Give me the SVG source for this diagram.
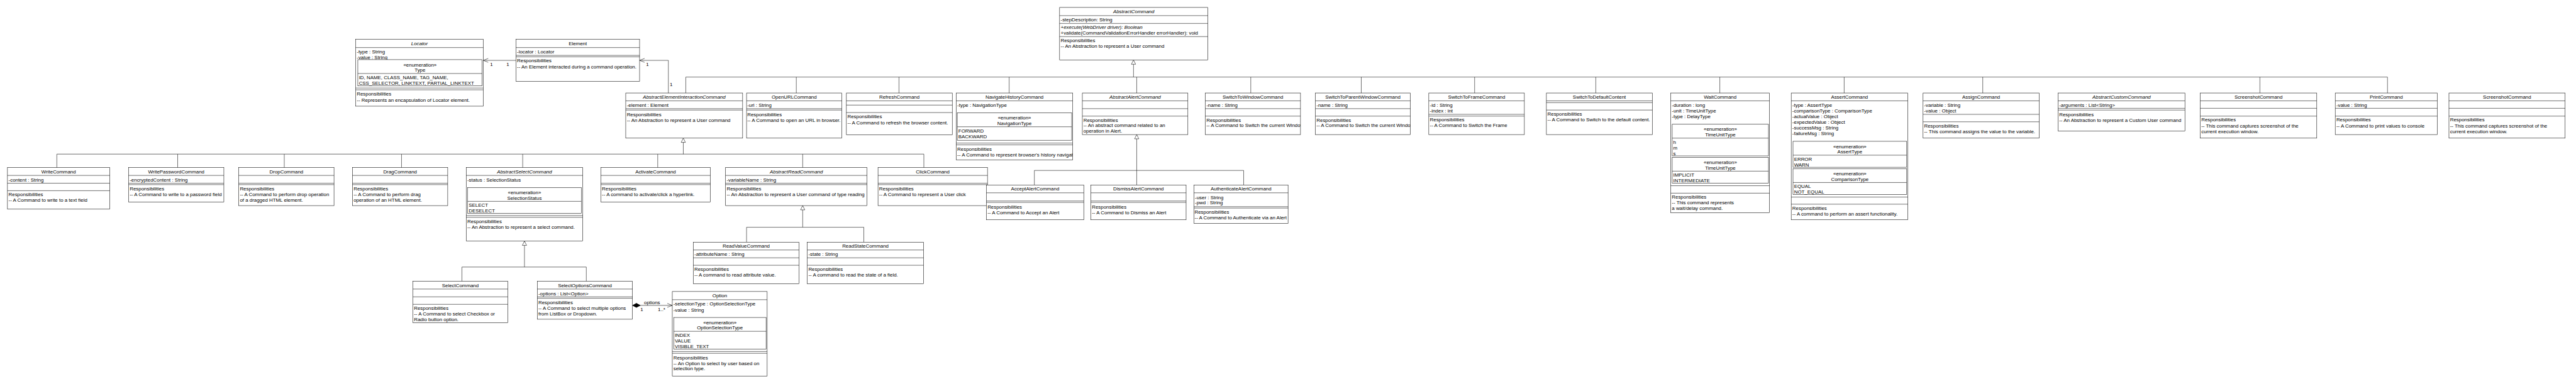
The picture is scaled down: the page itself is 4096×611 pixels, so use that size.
<svg xmlns="http://www.w3.org/2000/svg" width="4096" height="611" viewBox="0 0 4096 611">
<style>
text{font-family:"Liberation Sans",Arial,sans-serif;font-size:14px;fill:#000}
.c{text-anchor:middle}
.it{font-style:italic}
.n{fill:#fff;stroke:#000;stroke-width:1}
.d{fill:none;stroke:#000;stroke-width:1}
.k{fill:none;stroke:#000;stroke-width:1}
</style>
<defs>
<marker id="tri" markerUnits="userSpaceOnUse" markerWidth="14" markerHeight="14" refX="12" refY="6" orient="auto" overflow="visible"><path d="M0,0L12,6L0,12Z" fill="#fff" stroke="#000"/></marker>
<marker id="open" markerUnits="userSpaceOnUse" markerWidth="16" markerHeight="12" refX="14" refY="5.5" orient="auto" overflow="visible"><path d="M0,0L14,5.5L0,11" fill="none" stroke="#000"/></marker>
<marker id="dia" markerUnits="userSpaceOnUse" markerWidth="22" markerHeight="12" refX="0" refY="6" orient="auto" overflow="visible"><path d="M0,6L11,0L22,6L11,12Z" fill="#000" stroke="#000"/></marker>
<clipPath id="cNav"><rect x="2691" y="262" width="328" height="188"/></clipPath>
<clipPath id="cWin"><rect x="3392" y="262" width="268" height="117"/></clipPath>
<clipPath id="cPar"><rect x="3702" y="262" width="267" height="117"/></clipPath>
</defs>
<rect width="4096" height="611" fill="#fff"/>
<g transform="scale(0.565)">
<g id="connectors">
<path class="k" d="M1452,170H1360" marker-end="url(#open)"/>
<path class="k" d="M1881,262V170H1800" marker-end="url(#open)"/>
<text class="c" x="1383" y="185">1</text>
<text class="c" x="1429" y="185">1</text>
<text class="c" x="1822" y="185">1</text>
<text x="1885" y="242">1</text>
<path class="k" d="M1930,217H6719M1930,217V262M2241,217V262M2530,217V262M2840,217V262M3199,217V262M3520,217V262M3831,217V262M4150,217V262M4491,217V262M4840,217V262M5190,217V262M5580,217V262M6360,217V262M6719,217V262"/>
<path class="k" d="M3190,217V169" marker-end="url(#tri)"/>
<path class="k" d="M160,434H2600M160,434V472M500,434V472M800,434V472M1130,434V472M1471,434V472M1851,434V472M2259,434V472M2600,434V472"/>
<path class="k" d="M1923,434V389" marker-end="url(#tri)"/>
<path class="k" d="M2911,480H3500M2911,480V521M3199,480V521M3500,480V521"/>
<path class="k" d="M3199,480V379" marker-end="url(#tri)"/>
<path class="k" d="M2101,640H2431M2101,640V682M2431,640V682"/>
<path class="k" d="M2259,640V579" marker-end="url(#tri)"/>
<path class="k" d="M1300,752H1650M1300,752V792M1650,752V792"/>
<path class="k" d="M1476,752V679" marker-end="url(#tri)"/>
<path class="k" d="M1780,860H1892" marker-start="url(#dia)" marker-end="url(#open)"/>
<text class="c" x="1835" y="857">options</text>
<text class="c" x="1806" y="876">1</text>
<text class="c" x="1862" y="876">1..*</text>
</g>

<g id="locator">
<rect class="n" x="1001" y="111" width="359" height="188"/>
<path class="d" d="M1001,134H1360M1001,248H1360M1001,253H1360"/>
<text class="c it" x="1180.5" y="127">Locator</text>
<text x="1004" y="151">-type : String</text>
<text x="1004" y="166">-value : String</text>
<rect class="n" x="1007" y="168" width="350" height="74"/>
<path class="d" d="M1007,207H1357"/>
<text class="c" x="1182" y="187">«enumeration»</text>
<text class="c" x="1182" y="202">Type</text>
<text x="1010" y="223">ID, NAME, CLASS_NAME, TAG_NAME,</text>
<text x="1010" y="239">CSS_SELECTOR, LINKTEXT, PARTIAL_LINKTEXT</text>
<text x="1004" y="269">Responsibilities</text>
<text x="1004" y="286">-- Represents an encapsulation of Locator element.</text>
</g>

<g id="element">
<rect class="n" x="1452" y="111" width="348" height="118"/>
<path class="d" d="M1452,134H1800M1452,156H1800M1452,160H1800"/>
<text class="c" x="1626" y="127">Element</text>
<text x="1455" y="151">-locator : Locator</text>
<text x="1455" y="176">Responsibilities</text>
<text x="1455" y="193">-- An Element interacted during a command operation.</text>
</g>

<g id="abstractCommand">
<rect class="n" x="2982" y="21" width="417" height="148"/>
<path class="d" d="M2982,44H3399M2982,66H3399M2982,103H3399"/>
<text class="c it" x="3190.5" y="37">AbstractCommand</text>
<text x="2985" y="61">-stepDescription: String</text>
<text class="it" x="2985" y="82">+execute(WebDriver driver): Boolean</text>
<text x="2985" y="97">+validate(CommandValidationErrorHandler errorHandler): void</text>
<text x="2985" y="118">Responsibilities</text>
<text x="2985" y="134">-- An Abstraction to represent a User command</text>
</g>

<g id="abstractElementInteractionCommand">
<rect class="n" x="1761" y="262" width="329" height="127"/>
<path class="d" d="M1761,284H2090M1761,306H2090M1761,310H2090"/>
<text class="c it" x="1925.5" y="278">AbstractElementInteractionCommand</text>
<text x="1764" y="301">-element : Element</text>
<text x="1764" y="327">Responsibilities</text>
<text x="1764" y="343">-- An Abstraction to represent a User command</text>
</g>

<g id="openURLCommand">
<rect class="n" x="2101" y="262" width="268" height="127"/>
<path class="d" d="M2101,284H2369M2101,306H2369M2101,310H2369"/>
<text class="c" x="2235" y="278">OpenURLCommand</text>
<text x="2103" y="301">-url : String</text>
<text x="2103" y="327">Responsibilities</text>
<text x="2103" y="343">-- A Command to open an URL in browser.</text>
</g>

<g id="refreshCommand">
<rect class="n" x="2382" y="262" width="298" height="118"/>
<path class="d" d="M2382,284H2680M2382,296H2680M2382,317H2680"/>
<text class="c" x="2531" y="278">RefreshCommand</text>
<text x="2385" y="333">Responsibilities</text>
<text x="2385" y="350">-- A Command to refresh the browser content.</text>
</g>

<g id="navigateHistoryCommand">
<rect class="n" x="2691" y="262" width="328" height="188"/>
<path class="d" d="M2691,284H3019M2691,403H3019M2691,408H3019"/>
<text class="c" x="2855" y="278">NavigateHistoryCommand</text>
<text x="2694" y="301">-type : NavigationType</text>
<rect class="n" x="2694" y="318" width="322" height="77"/>
<path class="d" d="M2694,357H3016"/>
<text class="c" x="2855" y="337">«enumeration»</text>
<text class="c" x="2855" y="352">NavigationType</text>
<text x="2697" y="373">FORWARD</text>
<text x="2697" y="389">BACKWARD</text>
<text x="2694" y="425">Responsibilities</text>
<text x="2694" y="441" clip-path="url(#cNav)">-- A Command to represent browser's history navigation</text>
</g>

<g id="abstractAlertCommand">
<rect class="n" x="3046" y="262" width="297" height="117"/>
<path class="d" d="M3046,284H3343M3046,306H3343M3046,327H3343"/>
<text class="c it" x="3194.5" y="278">AbstractAlertCommand</text>
<text x="3049" y="343">Responsibilities</text>
<text x="3049" y="358">-- An abstract command related to an</text>
<text x="3049" y="374">operation in Alert.</text>
</g>

<g id="switchToWindowCommand">
<rect class="n" x="3392" y="262" width="268" height="117"/>
<path class="d" d="M3392,284H3660M3392,306H3660M3392,327H3660"/>
<text class="c" x="3526" y="278">SwitchToWindowCommand</text>
<text x="3395" y="301">-name : String</text>
<text x="3395" y="343">Responsibilities</text>
<text x="3395" y="358" clip-path="url(#cWin)">-- A Command to Switch the current Window</text>
</g>

<g id="switchToParentWindowCommand">
<rect class="n" x="3702" y="262" width="267" height="117"/>
<path class="d" d="M3702,284H3969M3702,306H3969M3702,327H3969"/>
<text class="c" x="3835.5" y="278">SwitchToParentWindowCommand</text>
<text x="3705" y="301">-name : String</text>
<text x="3705" y="343">Responsibilities</text>
<text x="3705" y="358" clip-path="url(#cPar)">-- A Command to Switch the current Window</text>
</g>

<g id="switchToFrameCommand">
<rect class="n" x="4021" y="262" width="269" height="117"/>
<path class="d" d="M4021,284H4290M4021,322H4290M4021,327H4290"/>
<text class="c" x="4155.5" y="278">SwitchToFrameCommand</text>
<text x="4024" y="301">-id : String</text>
<text x="4024" y="317">-index : int</text>
<text x="4024" y="342">Responsibilities</text>
<text x="4024" y="358">-- A Command to Switch the Frame</text>
</g>

<g id="switchToDefaultContent">
<rect class="n" x="4352" y="262" width="298" height="117"/>
<path class="d" d="M4352,284H4650M4352,289H4650M4352,310H4650"/>
<text class="c" x="4501" y="278">SwitchToDefaultContent</text>
<text x="4355" y="326">Responsibilities</text>
<text x="4355" y="342">-- A Command to Switch to the default content.</text>
</g>

<g id="waitCommand">
<rect class="n" x="4702" y="262" width="278" height="337"/>
<path class="d" d="M4702,284H4980M4702,523H4980M4702,544H4980"/>
<text class="c" x="4841" y="278">WaitCommand</text>
<text x="4705" y="301">-duration : long</text>
<text x="4705" y="316">-unit : TimeUnitType</text>
<text x="4705" y="332">-type : DelayType</text>
<rect class="n" x="4706" y="350" width="271" height="89"/>
<path class="d" d="M4706,389H4977"/>
<text class="c" x="4841.5" y="369">«enumeration»</text>
<text class="c" x="4841.5" y="384">TimeUnitType</text>
<text x="4709" y="406">h</text>
<text x="4709" y="422">m</text>
<text x="4709" y="437">s</text>
<rect class="n" x="4706" y="443" width="271" height="73"/>
<path class="d" d="M4706,482H4977"/>
<text class="c" x="4841.5" y="462">«enumeration»</text>
<text class="c" x="4841.5" y="477">TimeUnitType</text>
<text x="4709" y="498">IMPLICIT</text>
<text x="4709" y="514">INTERMEDIATE</text>
<text x="4705" y="560">Responsibilities</text>
<text x="4705" y="576">-- This command represents</text>
<text x="4705" y="592">a wait/delay command.</text>
</g>

<g id="assertCommand">
<rect class="n" x="5041" y="262" width="328" height="357"/>
<path class="d" d="M5041,284H5369M5041,555H5369M5041,575H5369"/>
<text class="c" x="5205" y="278">AssertCommand</text>
<text x="5044" y="301">-type : AssertType</text>
<text x="5044" y="316">-comparisonType : ComparisonType</text>
<text x="5044" y="332">-actualValue : Object</text>
<text x="5044" y="348">-expectedValue : Object</text>
<text x="5044" y="364">-successMsg : String</text>
<text x="5044" y="380">-failureMsg : String</text>
<rect class="n" x="5046" y="398" width="320" height="73"/>
<path class="d" d="M5046,437H5366"/>
<text class="c" x="5206" y="417">«enumeration»</text>
<text class="c" x="5206" y="432">AssertType</text>
<text x="5049" y="453">ERROR</text>
<text x="5049" y="469">WARN</text>
<rect class="n" x="5046" y="475" width="320" height="73"/>
<path class="d" d="M5046,514H5366"/>
<text class="c" x="5206" y="494">«enumeration»</text>
<text class="c" x="5206" y="509">ComparisonType</text>
<text x="5049" y="530">EQUAL</text>
<text x="5049" y="546">NOT_EQUAL</text>
<text x="5044" y="592">Responsibilities</text>
<text x="5044" y="607">-- A command to perform an assert functionality.</text>
</g>

<g id="assignCommand">
<rect class="n" x="5412" y="262" width="327" height="127"/>
<path class="d" d="M5412,284H5739M5412,322H5739M5412,343H5739"/>
<text class="c" x="5575.5" y="278">AssignCommand</text>
<text x="5415" y="301">-variable : String</text>
<text x="5415" y="317">-value : Object</text>
<text x="5415" y="359">Responsibilities</text>
<text x="5415" y="375">-- This command assigns the value to the variable.</text>
</g>

<g id="abstractCustomCommand">
<rect class="n" x="5792" y="262" width="357" height="107"/>
<path class="d" d="M5792,284H6149M5792,305H6149M5792,310H6149"/>
<text class="c it" x="5970.5" y="278">AbstractCustomCommand</text>
<text x="5795" y="301">-arguments : List&lt;String&gt;</text>
<text x="5795" y="327">Responsibilities</text>
<text x="5795" y="343">-- An Abstraction to represent a Custom User command</text>
</g>

<g id="screenshotCommand1">
<rect class="n" x="6192" y="262" width="328" height="127"/>
<path class="d" d="M6192,284H6520M6192,305H6520M6192,327H6520"/>
<text class="c" x="6356" y="278">ScreenshotCommand</text>
<text x="6195" y="342">Responsibilities</text>
<text x="6195" y="359">-- This command captures screenshot of the</text>
<text x="6195" y="375">current execution window.</text>
</g>

<g id="printCommand">
<rect class="n" x="6572" y="262" width="287" height="117"/>
<path class="d" d="M6572,284H6859M6572,305H6859M6572,327H6859"/>
<text class="c" x="6715.5" y="278">PrintCommand</text>
<text x="6575" y="301">-value : String</text>
<text x="6575" y="342">Responsibilities</text>
<text x="6575" y="359">-- A Command to print values to console</text>
</g>

<g id="screenshotCommand2">
<rect class="n" x="6892" y="262" width="327" height="127"/>
<path class="d" d="M6892,284H7219M6892,305H7219M6892,327H7219"/>
<text class="c" x="7055.5" y="278">ScreenshotCommand</text>
<text x="6895" y="342">Responsibilities</text>
<text x="6895" y="359">-- This command captures screenshot of the</text>
<text x="6895" y="375">current execution window.</text>
</g>

<g id="writeCommand">
<rect class="n" x="21" y="472" width="288" height="117"/>
<path class="d" d="M21,494H309M21,516H309M21,537H309"/>
<text class="c" x="165" y="488">WriteCommand</text>
<text x="24" y="511">-content : String</text>
<text x="24" y="552">Responsibilities</text>
<text x="24" y="569">-- A Command to write to a text field</text>
</g>

<g id="writePasswordCommand">
<rect class="n" x="362" y="472" width="268" height="97"/>
<path class="d" d="M362,494H630M362,516H630M362,520H630"/>
<text class="c" x="496" y="488">WritePasswordCommand</text>
<text x="365" y="511">-encryptedContent : String</text>
<text x="365" y="536">Responsibilities</text>
<text x="365" y="553">-- A Command to write to a password field</text>
</g>

<g id="dropCommand">
<rect class="n" x="672" y="472" width="268" height="107"/>
<path class="d" d="M672,494H940M672,516H940M672,520H940"/>
<text class="c" x="806" y="488">DropCommand</text>
<text x="675" y="536">Responsibilities</text>
<text x="675" y="553">-- A Command to perform drop operation</text>
<text x="675" y="569">of a dragged HTML element.</text>
</g>

<g id="dragCommand">
<rect class="n" x="992" y="472" width="268" height="107"/>
<path class="d" d="M992,494H1260M992,516H1260M992,520H1260"/>
<text class="c" x="1126" y="488">DragCommand</text>
<text x="995" y="536">Responsibilities</text>
<text x="995" y="553">-- A Command to perform drag</text>
<text x="995" y="569">operation of an HTML element.</text>
</g>

<g id="abstractSelectCommand">
<rect class="n" x="1312" y="472" width="328" height="207"/>
<path class="d" d="M1312,494H1640M1312,607H1640M1312,612H1640"/>
<text class="c it" x="1476" y="488">AbstractSelectCommand</text>
<text x="1315" y="511">-status : SelectionStatus</text>
<rect class="n" x="1316" y="528" width="320" height="73"/>
<path class="d" d="M1316,567H1636"/>
<text class="c" x="1476" y="547">«enumeration»</text>
<text class="c" x="1476" y="562">SelectionStatus</text>
<text x="1319" y="583">SELECT</text>
<text x="1319" y="599">DESELECT</text>
<text x="1315" y="628">Responsibilities</text>
<text x="1315" y="645">-- An Abstraction to represent a select command.</text>
</g>

<g id="activateCommand">
<rect class="n" x="1691" y="472" width="308" height="97"/>
<path class="d" d="M1691,494H1999M1691,516H1999M1691,520H1999"/>
<text class="c" x="1845" y="488">ActivateCommand</text>
<text x="1694" y="537">Responsibilities</text>
<text x="1694" y="553">-- A command to activate/click a hyperlink.</text>
</g>

<g id="abstractReadCommand">
<rect class="n" x="2042" y="472" width="398" height="107"/>
<path class="d" d="M2042,494H2440M2042,516H2440M2042,520H2440"/>
<text class="c it" x="2241" y="488">AbstractReadCommand</text>
<text x="2045" y="511">-variableName : String</text>
<text x="2045" y="537">Responsibilities</text>
<text x="2045" y="553">-- An Abstraction to represent a User command of type reading</text>
</g>

<g id="clickCommand">
<rect class="n" x="2471" y="472" width="308" height="107"/>
<path class="d" d="M2471,494H2779M2471,516H2779M2471,520H2779"/>
<text class="c" x="2625" y="488">ClickCommand</text>
<text x="2474" y="537">Responsibilities</text>
<text x="2474" y="553">-- A Command to represent a User click</text>
</g>

<g id="acceptAlertCommand">
<rect class="n" x="2776" y="521" width="274" height="98"/>
<path class="d" d="M2776,543H3050M2776,566H3050M2776,570H3050"/>
<text class="c" x="2913" y="537">AcceptAlertCommand</text>
<text x="2779" y="587">Responsibilities</text>
<text x="2779" y="603">-- A Command to Accept an Alert</text>
</g>

<g id="dismissAlertCommand">
<rect class="n" x="3070" y="521" width="268" height="98"/>
<path class="d" d="M3070,543H3338M3070,566H3338M3070,570H3338"/>
<text class="c" x="3204" y="537">DismissAlertCommand</text>
<text x="3073" y="587">Responsibilities</text>
<text x="3073" y="603">-- A Command to Dismiss an Alert</text>
</g>

<g id="authenticateAlertCommand">
<rect class="n" x="3360" y="521" width="265" height="108"/>
<path class="d" d="M3360,543H3625M3360,582H3625M3360,586H3625"/>
<text class="c" x="3492.5" y="537">AuthenticateAlertCommand</text>
<text x="3363" y="561">-user : String</text>
<text x="3363" y="576">-pwd : String</text>
<text x="3362" y="602">Responsibilities</text>
<text x="3362" y="618">-- A Command to Authenticate via an Alert</text>
</g>

<g id="readValueCommand">
<rect class="n" x="1951" y="682" width="298" height="117"/>
<path class="d" d="M1951,704H2249M1951,726H2249M1951,747H2249"/>
<text class="c" x="2100" y="698">ReadValueCommand</text>
<text x="1954" y="721">-attributeName : String</text>
<text x="1954" y="762">Responsibilities</text>
<text x="1954" y="778">-- A command to read attribute value.</text>
</g>

<g id="readStateCommand">
<rect class="n" x="2272" y="682" width="327" height="117"/>
<path class="d" d="M2272,704H2599M2272,726H2599M2272,747H2599"/>
<text class="c" x="2435.5" y="698">ReadStateCommand</text>
<text x="2275" y="721">-state : String</text>
<text x="2275" y="762">Responsibilities</text>
<text x="2275" y="778">-- A command to read the state of a field.</text>
</g>

<g id="selectCommand">
<rect class="n" x="1162" y="792" width="267" height="117"/>
<path class="d" d="M1162,814H1429M1162,836H1429M1162,857H1429"/>
<text class="c" x="1295.5" y="808">SelectCommand</text>
<text x="1165" y="872">Responsibilities</text>
<text x="1165" y="889">-- A Command to select Checkbox or</text>
<text x="1165" y="904">Radio button option.</text>
</g>

<g id="selectOptionsCommand">
<rect class="n" x="1512" y="792" width="268" height="107"/>
<path class="d" d="M1512,814H1780M1512,836H1780M1512,840H1780"/>
<text class="c" x="1646" y="808">SelectOptionsCommand</text>
<text x="1515" y="831">-options : List&lt;Option&gt;</text>
<text x="1515" y="856">Responsibilities</text>
<text x="1515" y="872">-- A Command to select multiple options</text>
<text x="1515" y="889">from ListBox or Dropdown.</text>
</g>

<g id="option">
<rect class="n" x="1892" y="821" width="267" height="238"/>
<path class="d" d="M1892,844H2159M1892,990H2159M1892,995H2159"/>
<text class="c" x="2025.5" y="838">Option</text>
<text x="1895" y="861">-selectionType : OptionSelectionType</text>
<text x="1895" y="877">-value : String</text>
<rect class="n" x="1896" y="894" width="260" height="89"/>
<path class="d" d="M1896,933H2156"/>
<text class="c" x="2026" y="913">«enumeration»</text>
<text class="c" x="2026" y="928">OptionSelectionType</text>
<text x="1899" y="949">INDEX</text>
<text x="1899" y="965">VALUE</text>
<text x="1899" y="981">VISIBLE_TEXT</text>
<text x="1895" y="1012">Responsibilities</text>
<text x="1895" y="1028">-- An Option to select by user based on</text>
<text x="1895" y="1043">selection type.</text>
</g>
</g>
</svg>
